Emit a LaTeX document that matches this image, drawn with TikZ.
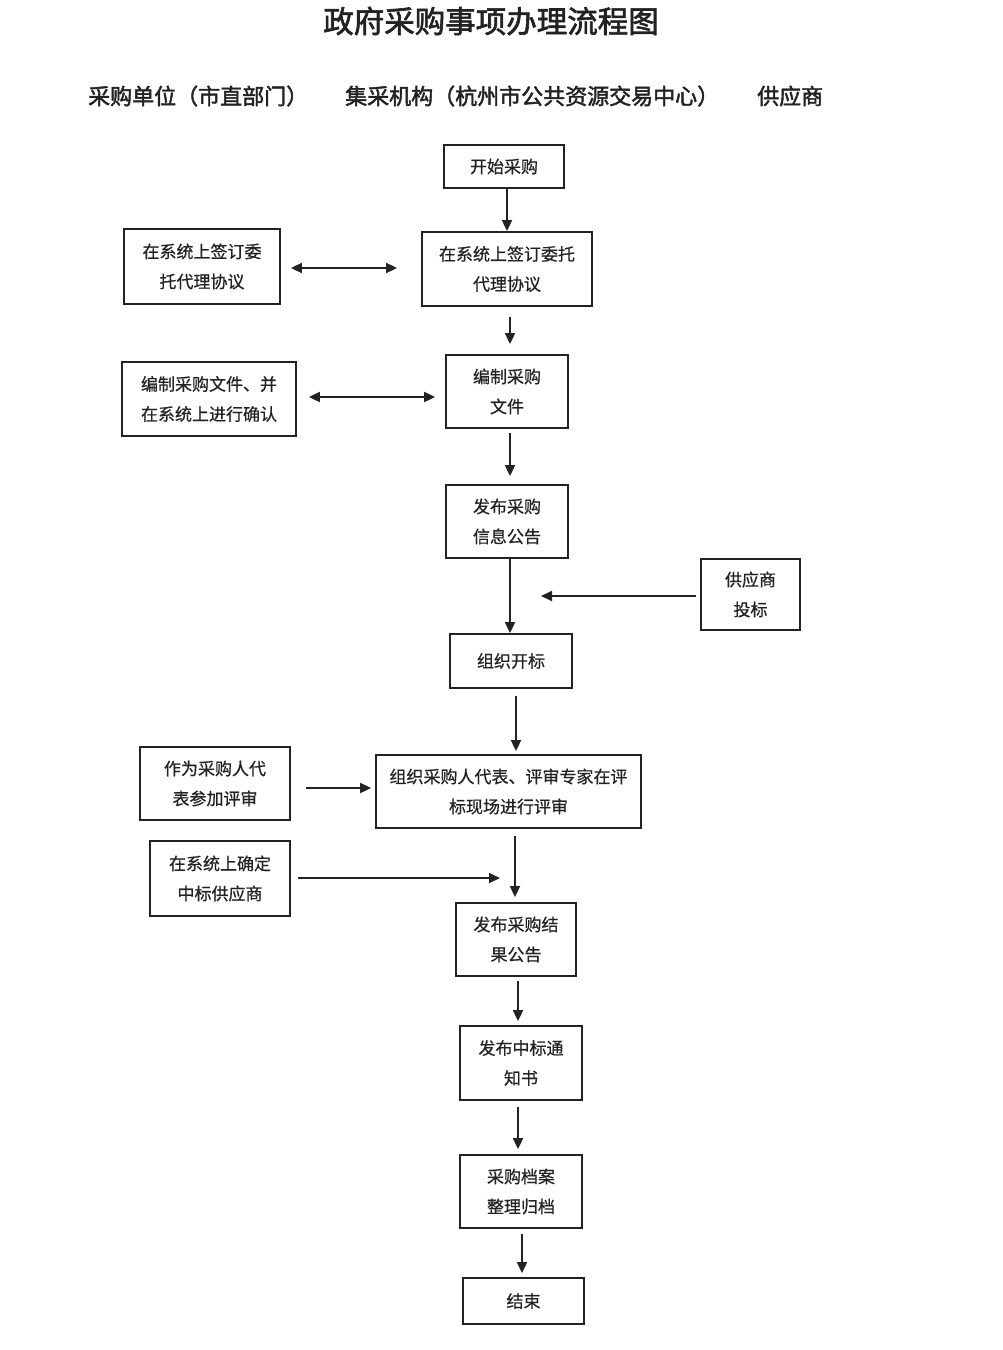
\documentclass[tikz,border=0pt]{standalone}
\usepackage{fontspec}
\usetikzlibrary{arrows.meta,calc}
\newfontfamily\cjk[FakeBold=0.6]{Noto Sans CJK SC}
\newfontfamily\cjkbold[FakeBold=2]{Noto Sans CJK SC}
\definecolor{ink}{HTML}{222222}
\tikzset{
  box/.style={draw=ink, line width=1.8pt, fill=white, text=ink, align=center,
    inner sep=0pt, font=\cjk\fontsize{17}{30}\selectfont},
  arr/.style={draw=ink, line width=1.8pt, -{Triangle[length=11pt,width=10pt]}},
  dbl/.style={draw=ink, line width=1.8pt, {Triangle[length=11pt,width=10pt]}-{Triangle[length=11pt,width=10pt]}},
  head/.style={anchor=west, inner sep=0pt, text=ink, font=\cjkbold\fontsize{22}{24}\selectfont},
}
\begin{document}
\begin{tikzpicture}[x=1pt,y=-1pt]
\useasboundingbox (0,0) rectangle (1002,1350);
\fill[white] (0,0) rectangle (1002,1350);

% heading and column titles
\node[inner sep=0pt, text=ink, font=\cjkbold\fontsize{30.5}{32}\selectfont] (title) at (491,21) {政府采购事项办理流程图};
\node[head] (colA) at (88,96) {采购单位（市直部门）};
\node[head] (colB) at (345,96) {集采机构（杭州市公共资源交易中心）};
\node[head] (colC) at (757,96) {供应商};

% boxes
\node[box, minimum width=120, minimum height=43] (start) at (504,166.5) {开始采购};
\node[box, minimum width=156, minimum height=75] (signL) at (202,266.5) {在系统上签订委\\托代理协议};
\node[box, minimum width=170, minimum height=74] (signR) at (507,269) {在系统上签订委托\\代理协议};
\node[box, minimum width=174, minimum height=74] (docL) at (209,399) {编制采购文件、并\\在系统上进行确认};
\node[box, minimum width=122, minimum height=73] (docR) at (507,391.5) {编制采购\\文件};
\node[box, minimum width=122, minimum height=73] (pub) at (507,521.5) {发布采购\\信息公告};
\node[box, minimum width=99, minimum height=71] (bid) at (750.5,594.5) {供应商\\投标};
\node[box, minimum width=122, minimum height=54] (open) at (511,661) {组织开标};
\node[box, minimum width=150, minimum height=73] (rep) at (215,783.5) {作为采购人代\\表参加评审};
\node[box, minimum width=265, minimum height=73] (review) at (508.5,791.5) {组织采购人代表、评审专家在评\\标现场进行评审};
\node[box, minimum width=140, minimum height=75] (confirm) at (220,878.5) {在系统上确定\\中标供应商};
\node[box, minimum width=120, minimum height=73] (result) at (516,939.5) {发布采购结\\果公告};
\node[box, minimum width=122, minimum height=74] (notice) at (521,1063) {发布中标通\\知书};
\node[box, minimum width=122, minimum height=73] (archive) at (521,1191.5) {采购档案\\整理归档};
\node[box, minimum width=121, minimum height=46] (finish) at (523.5,1301) {结束};

% free ends of the side arrows
\coordinate (bidtip) at (541,596);
\coordinate (conftip) at (500,878);

% connectors
\draw[arr] ($(start.south)+(3,0)$) -- (signR.north);
\draw[dbl] ($(signL.east)+(10,1.5)$) -- ($(signR.west)+(-24,-1)$);
\draw[arr] ($(signR.south)+(3,10)$) -- ($(docR.north)+(3,-10)$);
\draw[dbl] ($(docL.east)+(12,-2)$) -- ($(docR.west)+(-10,5.5)$);
\draw[arr] ($(docR.south)+(3,4)$) -- ($(pub.north)+(3,-8)$);
\draw[arr] ($(pub.south)+(3,0)$) -- ($(open.north)+(-1,0)$);
\draw[arr] ($(bid.west)+(-4,1.5)$) -- (bidtip);
\draw[arr] ($(open.south)+(5,7)$) -- ($(review.north)+(7.5,-3)$);
\draw[arr] ($(rep.east)+(15,4.5)$) -- ($(review.west)+(-4,-3.5)$);
\draw[arr] ($(review.south)+(6.5,7)$) -- ($(result.north)+(-1,-5)$);
\draw[arr] ($(confirm.east)+(7,-0.5)$) -- (conftip);
\draw[arr] ($(result.south)+(2,4)$) -- ($(notice.north)+(-3,-4)$);
\draw[arr] ($(notice.south)+(-3,6)$) -- ($(archive.north)+(-3,-5)$);
\draw[arr] ($(archive.south)+(1,5)$) -- ($(finish.north)+(-1.5,-4)$);
\end{tikzpicture}
\end{document}
